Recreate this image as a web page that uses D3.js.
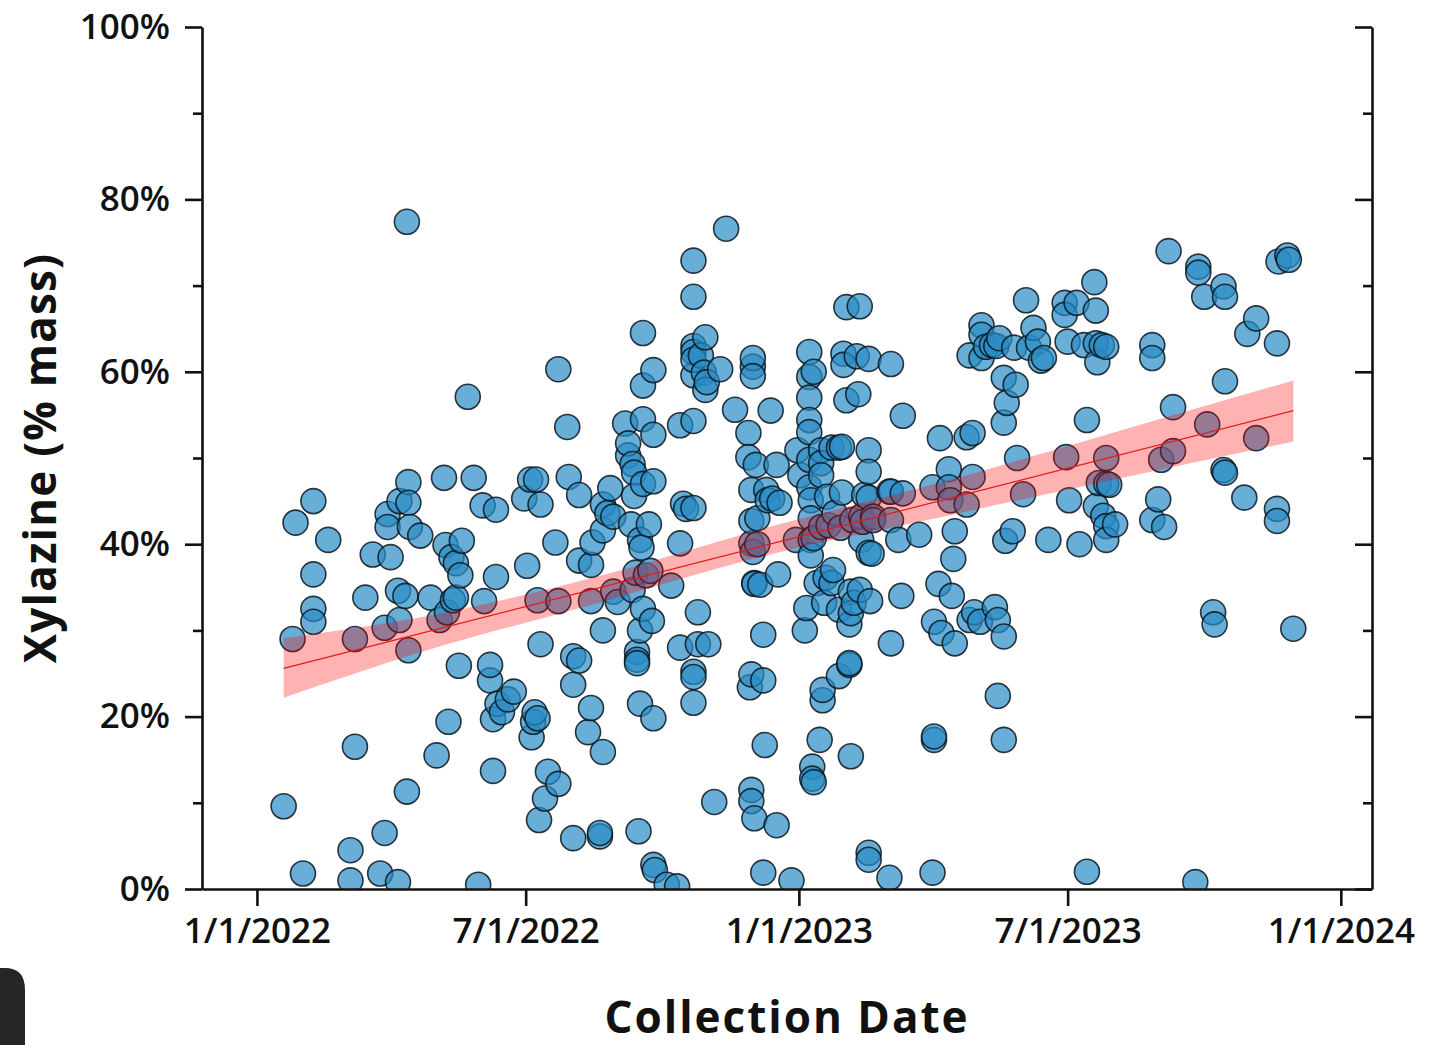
<!DOCTYPE html>
<html>
<head>
<meta charset="utf-8">
<script src="https://cdn.jsdelivr.net/npm/d3@7"></script>
<style>
  html, body { margin: 0; padding: 0; background: #fff; }
  svg { display: block; }
  text { font-family: "Open Sans", sans-serif; fill: #111; }
</style>
</head>
<body>
<svg id="chart" width="1440" height="1045"></svg>
<script>
// collection date as days since 1/1/2022, and xylazine % by mass
var collectionDay = [18,24,26,31,38,38,38,38,48,63,63,66,66,73,78,83,86,86,88,88,90,95,95,96,96,100,101,101,102,102,102,103,110,117,121,123,126,127,128,129,131,132,134,134,136,137,138,142,146,149,152,153,157,157,159,159,161,161,162,165,169,173,180,182,184,185,186,187,188,189,189,190,191,191,194,196,201,203,203,203,209,210,213,213,213,217,217,217,223,225,225,225,226,231,231,233,233,233,233,236,238,240,240,243,248,250,250,252,253,253,254,254,255,256,256,256,257,258,258,259,258,260,260,260,260,260,262,264,265,266,267,267,267,267,267,268,276,279,283,285,285,285,287,289,294,294,294,294,294,294,294,294,294,294,294,297,297,299,301,302,302,303,304,308,312,316,322,331,331,332,333,333,334,334,334,333,334,335,335,336,337,337,333,333,335,333,339,341,341,341,342,343,344,346,347,350,350,351,352,360,363,364,366,369,370,372,372,372,372,372,372,372,373,373,373,373,374,374,375,375,375,377,379,380,380,380,380,381,381,382,383,384,385,387,387,388,389,392,392,392,393,394,394,395,395,397,397,399,399,399,400,400,400,401,402,404,405,406,406,407,407,408,409,412,412,412,412,412,412,412,413,414,415,415,426,426,427,427,427,427,432,434,435,435,446,455,455,456,456,456,459,460,461,466,466,467,468,469,470,470,478,478,480,480,482,482,483,487,488,488,488,491,495,497,498,499,499,500,503,503,503,503,504,505,509,510,511,512,516,518,520,523,526,528,530,533,544,544,545,546,547,552,554,557,559,559,564,565,565,565,566,567,569,570,572,572,572,572,572,574,578,603,603,603,607,609,611,614,617,617,632,634,634,638,640,644,645,651,652,651,652,652,665,667,673,673,687,687,687,688,694,695,698];
var xylazinePct = [9.6,29.0,42.5,1.8,45.0,36.5,32.5,31.0,40.5,1.0,4.5,29.0,16.5,33.8,38.8,1.8,6.5,30.3,43.5,42.0,38.5,0.8,34.6,45.0,31.2,34.0,77.4,11.3,47.2,27.7,44.8,42.0,41.0,33.8,15.5,31.2,47.7,39.9,32.1,19.4,38.5,33.5,33.8,37.8,25.9,36.4,40.4,57.1,47.7,0.5,44.5,33.4,24.2,26.0,13.7,19.7,36.2,44.0,21.5,20.5,22.0,22.9,45.3,37.5,47.5,17.6,19.4,20.5,47.5,33.5,19.8,8.0,44.6,28.4,10.5,13.6,40.2,12.2,33.4,60.3,53.6,47.8,5.9,27.0,23.7,45.7,38.1,26.5,18.2,37.6,33.4,21.0,40.2,6.1,6.5,15.9,30.0,44.6,41.6,43.6,46.5,34.5,43.2,33.3,54.0,50.3,51.7,42.3,34.7,49.3,48.3,45.6,36.7,27.5,26.6,26.2,6.7,21.5,40.5,39.6,30.0,64.5,58.4,32.5,54.5,47.0,36.4,42.3,36.9,31.1,19.8,52.7,47.3,60.2,2.8,2.2,0.5,35.2,0.3,40.1,28.0,53.8,44.7,44.1,72.9,68.7,59.6,44.2,54.3,25.2,24.6,21.6,63.0,62.3,61.4,28.4,32.1,61.9,59.9,64.0,57.9,58.8,28.4,10.1,60.3,76.6,55.6,52.9,50.1,23.4,40.1,42.7,60.6,61.6,59.5,46.3,39.1,35.5,35.4,49.2,43.0,40.0,11.5,10.2,8.2,24.9,35.3,1.9,29.5,24.2,16.7,46.3,45.1,55.5,45.3,7.4,49.2,36.5,44.8,1.0,40.5,50.9,48.0,30.0,32.6,62.3,59.4,57.0,54.4,53.0,49.8,46.6,45.1,43.0,40.5,38.7,14.2,12.8,12.4,60.0,40.7,35.5,17.3,50.9,49.4,48.0,42.0,21.9,23.1,33.2,36.1,45.5,42.2,51.2,35.5,37.0,43.6,24.7,32.4,51.2,41.9,46.0,51.3,62.1,60.8,67.5,56.7,30.7,26.0,26.2,15.4,34.5,32.0,42.8,33.2,61.8,57.4,67.6,34.7,40.5,43.2,42.6,45.7,61.5,50.9,48.4,45.4,39.0,4.2,3.4,33.4,38.9,43.2,42.8,46.1,1.3,60.9,46.1,28.5,42.8,40.5,34.0,54.9,45.9,41.1,46.6,1.9,17.3,17.7,31.0,35.4,52.3,29.7,48.7,46.6,45.1,34.0,38.3,41.5,28.5,44.6,52.4,31.2,61.9,47.8,52.9,32.1,31.0,65.4,64.3,61.6,62.9,63.1,32.7,63.0,31.2,22.4,63.9,29.3,17.3,59.3,54.1,40.4,56.4,41.5,62.8,58.5,50.0,45.8,68.3,62.8,65.1,63.5,61.3,61.6,40.5,68.0,66.6,50.1,63.5,45.1,68.0,40.0,63.1,54.4,2.0,70.4,44.4,67.1,63.3,61.1,47.1,63.1,43.3,62.9,50.0,47.0,42.1,40.5,46.9,42.3,63.1,61.6,42.8,45.2,49.8,42.0,74.0,55.9,50.8,0.8,72.2,71.5,68.7,53.9,32.1,30.7,69.9,68.7,48.6,48.3,58.9,45.4,64.4,66.2,52.3,63.3,44.1,42.7,72.8,73.5,73.0,30.2];

// linear fit and its confidence band
var fitDay = [18, 698];
var fitPct = [25.6, 55.5];
var bandDay = [18, 113, 228, 343, 457, 572, 698];
var bandUpper = [29.1, 31.6, 36.2, 41.9, 47.0, 52.7, 59.0];
var bandLower = [22.2, 27.6, 33.1, 38.7, 43.0, 47.3, 51.9];

var xTickLabels = ["1/1/2022", "7/1/2022", "1/1/2023", "7/1/2023", "1/1/2024"];
var yTicks = [0, 20, 40, 60, 80, 100];
var yMinorTicks = [10, 30, 50, 70, 90];

var start = new Date(2022, 0, 1);
function toDate(day) { return d3.timeDay.offset(start, day); }

var margin = {left: 202, right: 68, top: 27, bottom: 156};
var width = 1440 - margin.left - margin.right;
var height = 1045 - margin.top - margin.bottom;

var svg = d3.select("#chart");

// little dark tab in the lower left corner
svg.append("path")
    .attr("d", "M0,968 L5,968 Q25,968 25,990 L25,1045 L0,1045 Z")
    .attr("fill", "#262626");

var g = svg.append("g")
    .attr("transform", "translate(" + margin.left + "," + margin.top + ")");

var x = d3.scaleTime()
    .domain([new Date(2021, 10, 25), new Date(2024, 0, 22)])
    .range([0, width]);
var y = d3.scaleLinear()
    .domain([0, 100])
    .range([height, 0]);

g.append("clipPath").attr("id", "plotclip")
    .append("rect").attr("width", width).attr("height", height);

var plot = g.append("g").attr("clip-path", "url(#plotclip)");

plot.selectAll("circle")
    .data(collectionDay)
    .enter()
    .append("circle")
    .attr("cx", function(d){ return x(toDate(d)); })
    .attr("cy", function(d, i){ return y(xylazinePct[i]); })
    .attr("r", 12.5)
    .attr("fill", "#2a8bc4")
    .attr("fill-opacity", 0.7)
    .attr("stroke", "#0b1620")
    .attr("stroke-opacity", 0.85)
    .attr("stroke-width", 1.6);

var area = d3.area()
    .x(function(d){ return x(toDate(d)); })
    .y0(function(d, i){ return y(bandLower[i]); })
    .y1(function(d, i){ return y(bandUpper[i]); })
    .curve(d3.curveMonotoneX);

plot.append("path")
    .datum(bandDay)
    .attr("d", area)
    .attr("fill", "#ff0000")
    .attr("fill-opacity", 0.3);

var line = d3.line()
    .x(function(d){ return x(toDate(d)); })
    .y(function(d, i){ return y(fitPct[i]); });

plot.append("path")
    .datum(fitDay)
    .attr("d", line)
    .attr("fill", "none")
    .attr("stroke", "#e41a1a")
    .attr("stroke-width", 1.2);

// axes
var axisColor = "#111";
var xTickDates = xTickLabels.map(function(s){
    var p = s.split("/");
    return new Date(+p[2], +p[0] - 1, +p[1]);
});

var xAxis = g.append("g")
    .attr("transform", "translate(0," + height + ")")
    .call(d3.axisBottom(x).tickValues(xTickDates)
        .tickFormat(function(d, i){ return xTickLabels[i]; })
        .tickSize(17).tickPadding(12).tickSizeOuter(0));

var yAxis = g.append("g")
    .call(d3.axisLeft(y).tickValues(yTicks)
        .tickFormat(function(d){ return d + "%"; })
        .tickSize(17).tickPadding(15).tickSizeOuter(0));

g.append("g")
    .call(d3.axisLeft(y).tickValues(yMinorTicks).tickFormat("").tickSize(9).tickSizeOuter(0))
    .select(".domain").remove();

// right axis, ticks pointing into the plot
var rAxis = g.append("g")
    .attr("transform", "translate(" + width + ",0)")
    .call(d3.axisLeft(y).tickValues(yTicks).tickFormat("").tickSize(17).tickSizeOuter(0));
g.append("g")
    .attr("transform", "translate(" + width + ",0)")
    .call(d3.axisLeft(y).tickValues(yMinorTicks).tickFormat("").tickSize(9).tickSizeOuter(0))
    .select(".domain").remove();

g.selectAll(".domain, .tick line")
    .attr("stroke", axisColor)
    .attr("stroke-width", 2.6);

g.selectAll(".tick text")
    .attr("font-family", "Open Sans")
    .attr("font-size", 35)
    .attr("font-weight", 600)
    .attr("fill", "#111");

// axis titles
svg.append("text")
    .attr("transform", "translate(56," + (margin.top + height / 2) + ") rotate(-90)")
    .attr("text-anchor", "middle")
    .attr("font-size", 44)
    .attr("font-weight", 700)
    .attr("letter-spacing", 1.2)
    .text("Xylazine (% mass)");

svg.append("text")
    .attr("x", margin.left + width / 2)
    .attr("y", 1033)
    .attr("text-anchor", "middle")
    .attr("font-size", 44)
    .attr("font-weight", 700)
    .attr("letter-spacing", 2)
    .text("Collection Date");
</script>
</body>
</html>
